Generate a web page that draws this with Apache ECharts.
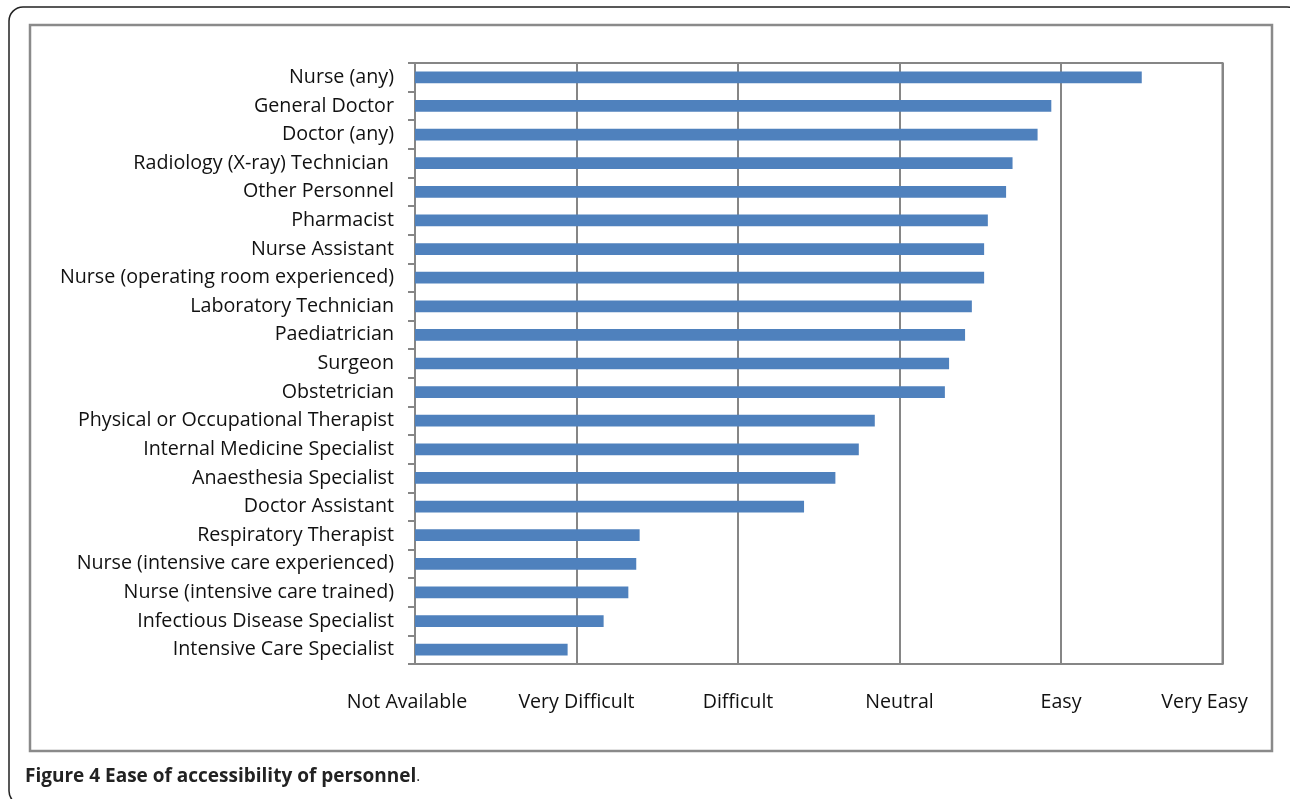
<!DOCTYPE html>
<html>
<head>
<meta charset="utf-8">
<script src="https://cdn.jsdelivr.net/npm/echarts@6/dist/echarts.min.js"></script>
<style>
html,body{margin:0;padding:0;background:#fff;}
#chart{width:1290px;height:799px;}
</style>
</head>
<body>
<div id="chart"></div>
<script>
// Categories, top to bottom
const categories = [
  "Nurse (any)",
  "General Doctor",
  "Doctor (any)",
  "Radiology (X-ray) Technician ",
  "Other Personnel",
  "Pharmacist",
  "Nurse Assistant",
  "Nurse (operating room experienced)",
  "Laboratory Technician",
  "Paediatrician",
  "Surgeon",
  "Obstetrician",
  "Physical or Occupational Therapist",
  "Internal Medicine Specialist",
  "Anaesthesia Specialist",
  "Doctor Assistant",
  "Respiratory Therapist",
  "Nurse (intensive care experienced)",
  "Nurse (intensive care trained)",
  "Infectious Disease Specialist",
  "Intensive Care Specialist"
];
// Ease score (0 = Not Available ... 5 = Very Easy)
const easeValues = [
  4.50, 3.94, 3.855, 3.70, 3.66, 3.547, 3.524, 3.524, 3.448, 3.406, 3.307,
  3.281, 2.847, 2.748, 2.603, 2.409, 1.391, 1.370, 1.321, 1.168, 0.945
];
// Tick labels of the ease scale
const scaleLabels = ["Not Available", "Very Difficult", "Difficult", "Neutral", "Easy", "Very Easy"];
const captionBold = "Figure 4 Ease of accessibility of personnel";

const chart = echarts.init(document.getElementById('chart'));
const labelFont = 'Open Sans';
const gridColor = '#868686';
const xFs = 19.6;

chart.setOption({
  animation: false,
  backgroundColor: '#fff',
  grid: {
    left: 415, top: 63, right: 67.5, bottom: 135,
    show: true, borderColor: gridColor, borderWidth: 2, backgroundColor: 'transparent'
  },
  xAxis: {
    type: 'value', min: 0, max: 5, interval: 1,
    axisLine: { show: true, lineStyle: { color: gridColor, width: 2 } },
    axisTick: { show: false },
    splitLine: { show: true, lineStyle: { color: gridColor, width: 2 } },
    axisLabel: {
      margin: 28,
      color: '#111',
      fontFamily: labelFont,
      fontSize: xFs,
      formatter: function (v) {
        const t = scaleLabels[Math.round(v)];
        if (Math.round(v) === 0) return '{na|' + t + '}';
        if (Math.round(v) === 5) return '{ve|' + t + '}';
        return t;
      },
      rich: {
        na: { fontFamily: labelFont, fontSize: xFs, color: '#111', padding: [0, 16, 0, 0] },
        ve: { fontFamily: labelFont, fontSize: xFs, color: '#111', padding: [0, 36, 0, 0] }
      }
    }
  },
  yAxis: {
    type: 'category', data: categories, inverse: true,
    axisLine: { show: true, lineStyle: { color: gridColor, width: 2 } },
    axisTick: { show: true, length: 7, lineStyle: { color: gridColor, width: 2 } },
    axisLabel: { margin: 21, color: '#111', fontFamily: labelFont, fontSize: 19.7 },
    splitLine: { show: false }
  },
  series: [{
    type: 'bar',
    data: easeValues,
    barWidth: '41%',
    itemStyle: { color: '#4f81bd' }
  }],
  graphic: [
    {
      type: 'rect', silent: true,
      shape: { x: 9, y: 7, width: 1292, height: 798, r: 14 },
      style: { fill: 'none', stroke: '#222', lineWidth: 1.5 }
    },
    {
      type: 'rect', silent: true,
      shape: { x: 30, y: 25, width: 1242, height: 726 },
      style: { fill: 'none', stroke: '#8a8a8a', lineWidth: 2.5 }
    },
    {
      type: 'text', left: 25, top: 767,
      style: {
        text: '{b|' + captionBold + '}{n|.}',
        rich: {
          b: { fontFamily: 'Open Sans', fontWeight: 'bold', fontSize: 19, fill: '#222' },
          n: { fontFamily: 'Open Sans', fontSize: 15, fill: '#222' }
        }
      }
    }
  ]
});
</script>
</body>
</html>
